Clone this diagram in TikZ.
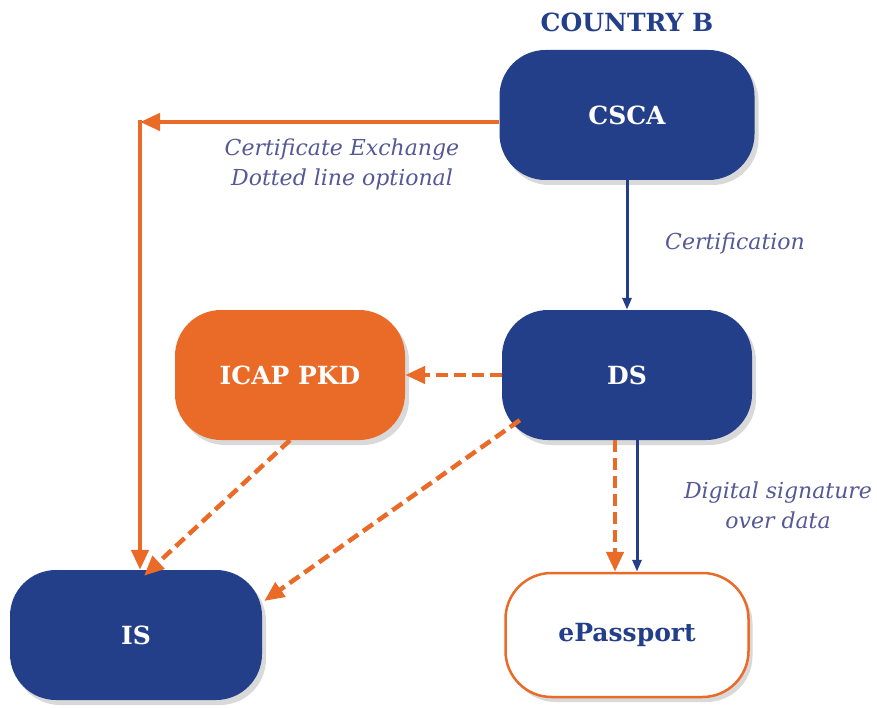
\documentclass[tikz,border=0pt]{standalone}
\usepackage{fontspec}
\setmainfont{DejaVu Serif}
\usetikzlibrary{arrows.meta,shadows,calc}
\definecolor{navy}{HTML}{243F8A}
\definecolor{orng}{HTML}{EA6A28}
\definecolor{lblc}{HTML}{545894}
\tikzset{
  box/.style={rounded corners=46pt, minimum height=130pt, inner sep=0pt,
    font=\fontsize{25}{30}\selectfont\bfseries,
    drop shadow={shadow xshift=4pt, shadow yshift=-5pt, opacity=0.3}},
  bluebox/.style={box, fill=navy, text=white},
  orangebox/.style={box, fill=orng, text=white},
  whitebox/.style={box, fill=white, draw=orng, line width=2.5pt, text=navy},
  lbl/.style={text=lblc, font=\fontsize{22}{30}\selectfont\itshape, align=center},
  ttl/.style={text=navy, font=\fontsize{25}{30}\selectfont\bfseries},
  oarrow/.style={draw=orng, line width=4.5pt, -{Triangle[length=20pt,width=17pt]}},
  odash/.style={oarrow, dash pattern=on 12pt off 6pt},
  barrow/.style={draw=navy, line width=3pt, -{Triangle[length=12pt,width=9pt]}}
}
\begin{document}
\begin{tikzpicture}[x=1pt,y=-1pt]
\useasboundingbox (0,0) rectangle (877,708);
\node[ttl] (country) at (627,22) {COUNTRY B};
\node[bluebox, minimum width=255pt] (csca) at (627,115) {CSCA};
\node[bluebox, minimum width=250pt] (ds) at (627,375) {DS};
\node[orangebox, minimum width=230pt] (icap) at (290,375) {ICAP PKD};
\node[bluebox, minimum width=252pt] (is) at (136,635) {IS};
\node[whitebox, minimum width=243pt, minimum height=124pt] (epp) at (627,635) {ePassport};
\coordinate (corner) at (140,122);

\draw[oarrow] (csca.west |- corner) -- (corner);
\draw[oarrow] ($(corner)+(0,-2)$) -- (corner |- is.north);
\draw[odash] (ds.west) -- (icap.east);
\draw[odash] (icap.south) -- ($(is.north)+(8,6)$);
\draw[odash] ($(ds.south west)+(18,-20)$) -- ($(is.east)+(2,-34)$);
\draw[odash] ($(ds.south)+(-12,0)$) -- ($(epp.north)+(-12,0)$);
\draw[barrow] ($(ds.south)+(10,0)$) -- ($(epp.north)+(10,0)$);
\draw[barrow] (csca.south) -- (ds.north);

\node[lbl] (certx) at (342,164) {Certificate Exchange\\Dotted line optional};
\node[lbl] (certif) at (735,243) {Certification};
\node[lbl] (digsig) at (778,505) {Digital signature\\over data};
\end{tikzpicture}
\end{document}
